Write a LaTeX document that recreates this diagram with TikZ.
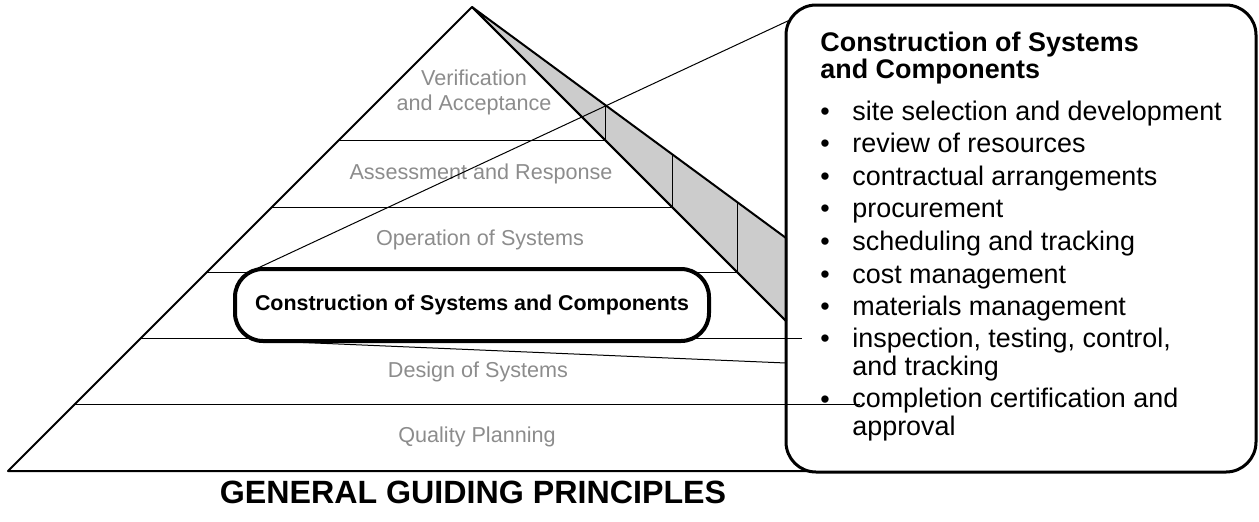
\documentclass[tikz,border=0pt]{standalone}
\usepackage{fontspec}
\setmainfont{Liberation Sans}
\definecolor{labelgray}{gray}{0.55}
\definecolor{facegray}{gray}{0.8}

\begin{document}
\begin{tikzpicture}[x=0.5pt,y=-0.5pt,
    layer label/.style={text=labelgray,font=\fontsize{10.8}{12.5}\selectfont,align=center,inner sep=0},
    layer line/.style={line width=0.5pt},
    edge line/.style={line width=1pt,line join=round},
    focus box/.style={draw,line width=2pt,fill=white,rounded corners=14pt,minimum width=237pt,minimum height=36pt,font=\bfseries\fontsize{10.7}{12}\selectfont,inner sep=0},
    detail box/.style={draw,line width=1.5pt,rounded corners=15pt,minimum width=235pt,minimum height=233.5pt,inner sep=0},
    item/.style={anchor=base west,align=left,inner sep=0,font=\fontsize{13.45}{14}\selectfont},
    dot/.style={anchor=base,inner sep=0,font=\fontsize{13.45}{14}\selectfont},
    pointer/.style={line width=0.5pt}]
        \useasboundingbox (0,0) rectangle (1259,521);

        \coordinate (apex) at (472,7);
        \coordinate (left foot) at (8,471);
        \coordinate (right foot) at (812,471);
        \coordinate (inner end) at (786,321);
        \coordinate (outer end) at (786,238);

        \filldraw[edge line,fill=facegray] (apex) -- (outer end) -- (inner end) -- cycle;
        \draw[edge line] (inner end) -- (apex) -- (left foot) -- (right foot);

        \draw[layer line] (339,140) -- (605,140) -- (605,105);
        \draw[layer line] (272,207) -- (672,207) -- (672,154);
        \draw[layer line] (207,272) -- (737,272) -- (737,202);
        \draw[layer line] (141,338) -- (802,338);
        \draw[layer line] (75,404) -- (860,404);

        \node[layer label] at (474,92) (verif) {Verification\\and Acceptance};
        \node[layer label] at (481,174) (assess) {Assessment and Response};
        \node[layer label] at (480,240) (oper) {Operation of Systems};
        \node[layer label] at (478,372) (design) {Design of Systems};
        \node[layer label] at (477,437) (plan) {Quality Planning};

        \node[focus box] at (472,305) (focus) {Construction of Systems and Components};
        \node[detail box] at (1021,238.5) (detail) {};

        \coordinate (focus top) at (258,268);
        \coordinate (focus bottom) at (268,341);
        \coordinate (detail top) at (792,19);
        \coordinate (detail bottom) at (786,363);

        \path[pointer]
            (focus top) edge (detail top)
            (focus bottom) edge (detail bottom)
            ;

        \node[item,font=\bfseries\fontsize{13.45}{13.5}\selectfont] at (820,78) (head) {Construction of Systems\\and Components};
        \node[item] at (852,120) (site) {site selection and development};
        \node[item] at (852,152) (review) {review of resources};
        \node[item] at (852,185) (contract) {contractual arrangements};
        \node[item] at (852,217) (procure) {procurement};
        \node[item] at (852,250) (sched) {scheduling and tracking};
        \node[item] at (852,283) (cost) {cost management};
        \node[item] at (852,315) (mater) {materials management};
        \node[item] at (852,375) (inspect) {inspection, testing, control,\\and tracking};
        \node[item] at (852,435) (complete) {completion certification and\\approval};
        \foreach \y in {120,152,185,217,250,283,315,347,408}
            \node[dot] at (825,\y) {•};

        \node[font=\bfseries\fontsize{16.1}{18}\selectfont] at (473,492) (title) {GENERAL GUIDING PRINCIPLES};
    \end{tikzpicture}
\end{document}
